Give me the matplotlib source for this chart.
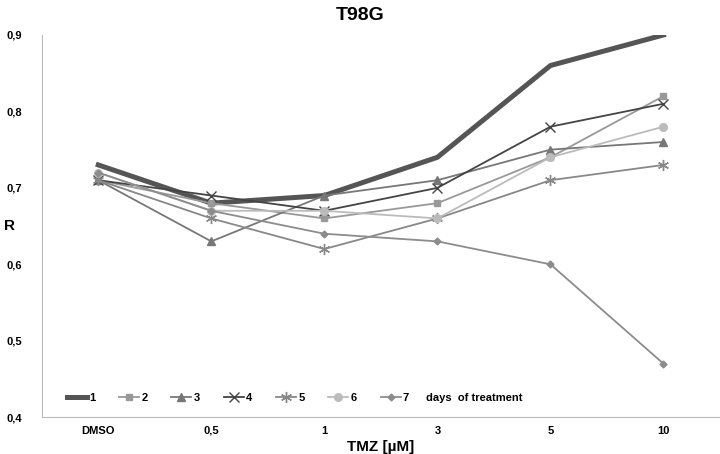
import matplotlib.pyplot as plt
from matplotlib.ticker import FuncFormatter

plt.rcParams['font.family'] = ['Liberation Sans', 'DejaVu Sans']

categories = ["DMSO", "0,5", "1", "3", "5", "10"]
labels = ["1", "2", "3", "4", "5", "6", "7"]

day1 = [0.73, 0.68, 0.69, 0.74, 0.86, 0.90]
day2 = [0.71, 0.68, 0.66, 0.68, 0.74, 0.82]
day3 = [0.71, 0.63, 0.69, 0.71, 0.75, 0.76]
day4 = [0.71, 0.69, 0.67, 0.70, 0.78, 0.81]
day5 = [0.71, 0.66, 0.62, 0.66, 0.71, 0.73]
day6 = [0.72, 0.67, 0.67, 0.66, 0.74, 0.78]
day7 = [0.72, 0.67, 0.64, 0.63, 0.60, 0.47]

series = [day1, day2, day3, day4, day5, day6, day7]
colors = ["#555555", "#999999", "#777777", "#444444", "#888888", "#bbbbbb", "#8c8c8c"]
markers = [None, "s", "^", "x", (6, 2, 0), "o", "D"]
widths = [3.6, 1.3, 1.3, 1.3, 1.3, 1.3, 1.3]
msizes = [0, 5, 5.5, 7, 8, 5.5, 3.5]

fig = plt.figure(figsize=(7.2, 4.54), dpi=100)
ax = fig.add_axes([0.058, 0.081, 0.942, 0.842])

x = list(range(len(categories)))
for data, c, m, lw, ms, lab in zip(series, colors, markers, widths, msizes, labels):
    ax.plot(x, data, color=c, marker=m, lw=lw, ms=ms, markeredgecolor=c,
            markerfacecolor=c, label=lab, markeredgewidth=1.0)

ax.set_xlim(-0.5, 5.5)
ax.set_ylim(0.4, 0.9)
ax.set_yticks([0.4, 0.5, 0.6, 0.7, 0.8, 0.9])
ax.yaxis.set_major_formatter(FuncFormatter(lambda v, p: f"{v:.1f}".replace(".", ",")))
ax.set_xticks(x)
ax.set_xticklabels(categories)
ax.tick_params(length=0, labelsize=8)
ax.tick_params(axis='x', pad=12)
ax.tick_params(axis='y', pad=14)
for t in ax.get_xticklabels():
    t.set_va("baseline")
for t in ax.get_xticklabels() + ax.get_yticklabels():
    t.set_fontweight("bold")

for s in ("top", "right"):
    ax.spines[s].set_visible(False)
for s in ("left", "bottom"):
    ax.spines[s].set_color("#bbbbbb")

fig.suptitle("T98G", fontsize=14, fontweight="bold", x=0.5, y=0.985)
ax.set_xlabel("TMZ [µM]", fontsize=11, fontweight="bold", labelpad=3)
ax.set_ylabel("R", fontsize=11, fontweight="bold", rotation=0, va="center")
ax.yaxis.set_label_coords(-0.048, 0.5)

leg = ax.legend(loc="center left", ncol=7, frameon=False, fontsize=8,
                handlelength=1.8, columnspacing=2.15, handletextpad=0.2,
                borderpad=0, borderaxespad=0, bbox_to_anchor=(0.037, 0.05))
for t in leg.get_texts():
    t.set_fontweight("bold")
ax.text(0.566, 0.05, "days  of treatment", transform=ax.transAxes,
        fontsize=8, fontweight="bold", va="center")

fig.savefig("out.png", dpi=100)
